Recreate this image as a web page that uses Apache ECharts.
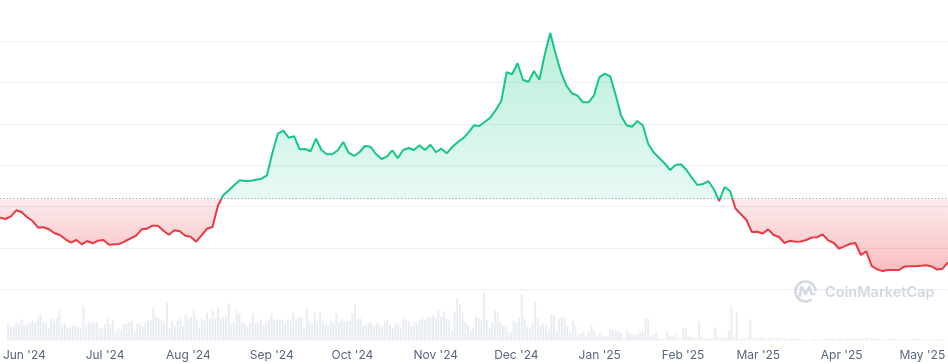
<!DOCTYPE html>
<html><head><meta charset="utf-8">
<script src="https://cdn.jsdelivr.net/npm/echarts@6/dist/echarts.min.js"></script>
<style>html,body{margin:0;padding:0;background:#fff}#c{width:948px;height:364px}</style>
</head><body><div id="c"></div>
<script>
// ---- data ----
const startDate = [2024, 4, 26];   // first sample: 26 May 2024
const totalDays = 348;             // last sample: 9 May 2025
const priceStepDays = 2;
const prices = [
0.2733,0.2702,0.2767,0.2912,0.2864,0.2743,0.2653,0.2491,0.2501,0.2453,
0.2356,0.2315,0.2211,0.2128,0.2194,0.2090,0.2169,0.2114,0.2177,0.2194,
0.2080,0.2090,0.2097,0.2169,0.2235,0.2298,0.2453,0.2467,0.2540,0.2540,
0.2419,0.2322,0.2428,0.2404,0.2298,0.2273,0.2153,0.2307,0.2467,0.2508,
0.3023,0.3282,0.3396,0.3524,0.3638,0.3621,0.3628,0.3653,0.3677,0.3759,
0.4306,0.4765,0.4838,0.4669,0.4703,0.4388,0.4395,0.4340,0.4644,0.4371,
0.4267,0.4267,0.4364,0.4565,0.4306,0.4226,0.4323,0.4468,0.4451,0.4274,
0.4153,0.4209,0.4364,0.4170,0.4371,0.4419,0.4371,0.4485,0.4371,0.4499,
0.4316,0.4403,0.4291,0.4444,0.4557,0.4654,0.4799,0.4969,0.4952,0.5056,
0.5153,0.5339,0.5557,0.6251,0.6203,0.6469,0.6065,0.6023,0.6282,0.6072,
0.6686,0.7202,0.6686,0.6241,0.5919,0.5743,0.5685,0.5525,0.5525,0.5685,
0.6130,0.6217,0.6154,0.5702,0.5201,0.4969,0.4935,0.5073,0.4964,0.4509,
0.4311,0.4178,0.4044,0.3887,0.4008,0.4025,0.3887,0.3694,0.3524,0.3548,
0.3621,0.3428,0.3137,0.3476,0.3379,0.2956,0.2815,0.2678,0.2387,0.2392,
0.2351,0.2450,0.2315,0.2266,0.2121,0.2177,0.2153,0.2157,0.2194,0.2257,
0.2261,0.2327,0.2186,0.2128,0.1983,0.2041,0.2097,0.2121,0.1831,0.1920,
0.1565,0.1482,0.1444,0.1468,0.1468,0.1468,0.1550,0.1560,0.1557,0.1572,
0.1584,0.1553,0.1478,0.1499,0.1649
];
const baselinePrice = 0.3178;
const priceAxisMax = 0.8;
const volumes = [
17,14,14,18,16,21,15,17,17,20,18,23,26,18,17,12,22,19,22,31,
15,17,13,13,15,14,14,12,34,15,19,18,18,18,12,12,16,22,16,20,
8,12,10,17,17,18,20,9,17,17,14,18,20,20,33,24,22,21,18,38,
12,20,14,20,22,14,26,22,24,32,22,13,22,20,28,22,30,22,33,22,
24,24,37,17,18,30,27,18,17,14,18,27,18,18,21,15,18,21,27,21,
21,21,21,18,21,20,28,22,24,24,12,31,20,18,28,20,
28,20,17,15,20,17,27,18,21,19,20,20,27,36,22,22,15,16,18,18,
14,18,17,14,20,20,16,12,18,16,12,23,20,19,14,18,17,20,24,20,
23,24,25,23,30,24,29,22,20,10,29,42,36,28,19,16,10,12,24,22,
20,48,21,12,18,30,28,18,15,14,8,8,20,18,22,46,22,14,12,17,
39,23,15,17,16,10,26,25,10,22,24,22,15,8,20,15,6,7,9,5,
9,15,10,5,8,5,4,4,11,11,10,10,8,2,10,8,
6,6,6,8,9,22,22,4,6,8,2,2,2,10,5,4,6,2,2,12,
12,4,3,3,3,19,4,2,2,2,2,13,3,2,3,3,11,33,4,28,
2,2,2,3,21,
2,3,2,3,3,2,3,2,2,3,2,2,2,1,2,1,2,2,1,1,
2,1,1,2,1,1,1,2,2,1,2,1,2,2,1,2,2,2,1,2,
2,2,3,2,3,2,2,1,2,1,1,2,1,2,1,1,1,2,1,1,
2,1,2,1,1,2,1,1,2,1,2,1
];
const tickDates = [[2024,5,1],[2024,6,1],[2024,7,1],[2024,8,1],[2024,9,1],[2024,10,1],
                   [2024,11,1],[2025,0,1],[2025,1,1],[2025,2,1],[2025,3,1],[2025,4,1]];
const tickLabels = ["Jun '24","Jul '24","Aug '24","Sep '24","Oct '24","Nov '24",
                    "Dec '24","Jan '25","Feb '25","Mar '25","Apr '25","May '25"];

// ---- build ----
const dayTs = d => new Date(startDate[0], startDate[1], startDate[2] + d).getTime();
const priceData = prices.map((v, i) => [dayTs(i * priceStepDays), v]);
const volumeData = volumes.map((v, i) => [dayTs(i), v]);
const tickTs = tickDates.map(t => new Date(t[0], t[1], t[2]).getTime());
const labelOf = {};
tickTs.forEach((t, i) => { labelOf[t] = tickLabels[i]; });
const xMin = dayTs(0), xMax = dayTs(totalDays);

const priceGridHeight = 330.67;
const split = 1 - baselinePrice / priceAxisMax;   // where the baseline sits in the price grid
const G = echarts.graphic.LinearGradient;
const strokeGrad = new G(0, 0, 0, priceGridHeight, [
  {offset: 0, color: '#16c784'}, {offset: split, color: '#16c784'},
  {offset: split, color: '#ea3943'}, {offset: 1, color: '#ea3943'}
], true);
const areaGrad = new G(0, 0, 0, priceGridHeight, [
  {offset: 0.09, color: 'rgba(22,199,132,0.30)'},
  {offset: split, color: 'rgba(22,199,132,0.10)'},
  {offset: split, color: 'rgba(234,57,67,0.10)'},
  {offset: 0.83, color: 'rgba(234,57,67,0.34)'},
  {offset: 1, color: 'rgba(234,57,67,0.40)'}
], true);

const chart = echarts.init(document.getElementById('c'), null, {renderer: 'canvas'});
chart.setOption({
  animation: false,
  grid: [
    {left: 0, right: 0, top: 0, height: priceGridHeight},
    {left: 0, right: 0, top: 290.5, height: 50}
  ],
  xAxis: [
    {type: 'value', gridIndex: 0, min: xMin, max: xMax, show: false},
    {type: 'value', gridIndex: 1, min: xMin, max: xMax,
     axisLine: {show: false}, axisTick: {show: false}, splitLine: {show: false},
     axisLabel: {customValues: tickTs, formatter: v => labelOf[v] || '', color: '#58667e',
                 fontSize: 12, fontFamily: 'Inter', margin: 9, hideOverlap: false}}
  ],
  yAxis: [
    {type: 'value', gridIndex: 0, min: 0, max: priceAxisMax, interval: 0.1,
     axisLabel: {show: false}, axisLine: {show: false}, axisTick: {show: false},
     splitLine: {show: true, showMinLine: false, showMaxLine: false, lineStyle: {color: '#eceef1', width: 1}}},
    {type: 'value', gridIndex: 1, min: 0, max: 50, show: false}
  ],
  series: [
    {type: 'line', xAxisIndex: 0, yAxisIndex: 0, data: priceData, symbol: 'none',
     lineStyle: {width: 2, color: strokeGrad}, itemStyle: {color: '#16c784'},
     areaStyle: {origin: baselinePrice, color: areaGrad, opacity: 1}, z: 3,
     markLine: {silent: true, symbol: 'none', label: {show: false},
                lineStyle: {color: '#8c929c', type: [1, 2.4], width: 1},
                data: [{yAxis: baselinePrice}]}},
    {type: 'bar', xAxisIndex: 1, yAxisIndex: 1, data: volumeData, barWidth: 2,
     itemStyle: {color: '#e9edf2'}, z: 1}
  ],
  graphic: [
    {type: 'arc', shape: {cx: 805.5, cy: 291.5, r: 10, startAngle: 0.9, endAngle: Math.PI * 2, clockwise: true},
     style: {stroke: '#d3d9e3', lineWidth: 2.6, fill: null}, z: 10},
    {type: 'polyline', shape: {points: [[799.5, 297], [801.5, 287], [805.5, 294], [809.5, 287], [811.5, 294], [815.5, 294]]},
     style: {stroke: '#d3d9e3', lineWidth: 2.6, fill: null, lineJoin: 'round'}, z: 10},
    {type: 'text', left: 825, top: 285,
     style: {text: 'CoinMarketCap', font: '600 14.5px Inter', fill: '#d3d9e3'}, z: 10}
  ]
});
</script></body></html>
